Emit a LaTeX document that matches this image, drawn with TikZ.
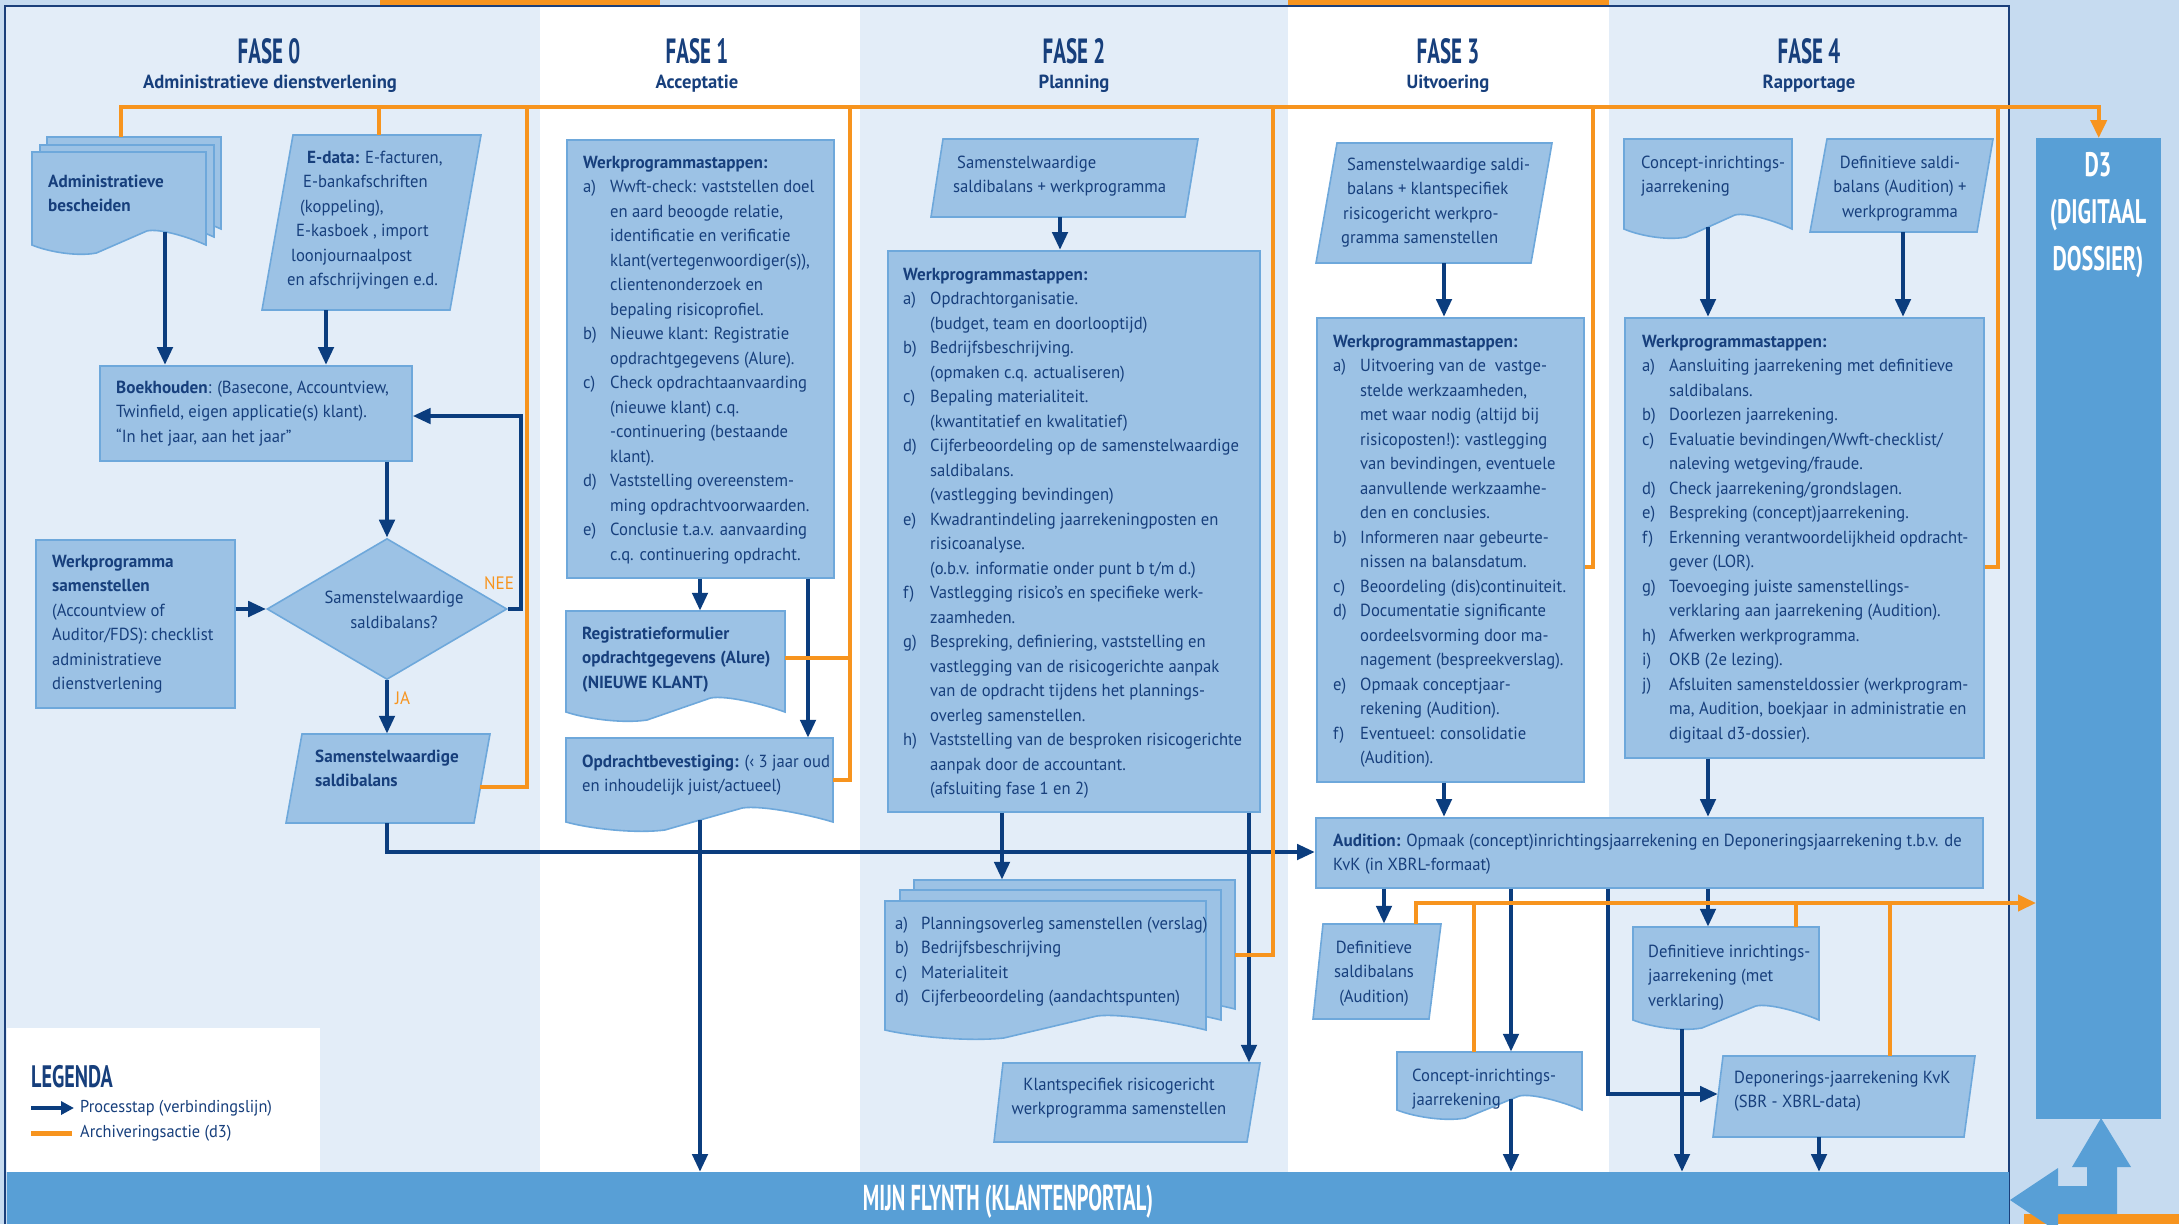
\documentclass[tikz,border=0pt]{standalone}
\usepackage{fontspec}
\setmainfont{PT Sans}[FakeStretch=0.95,BoldFeatures={FakeStretch=0.98}]
\newfontfamily\hfont{PT Sans}[FakeStretch=0.6]
\newfontfamily\dfont{PT Sans}[FakeStretch=0.65]
\newfontfamily\bfont{PT Sans}[FakeStretch=0.57]
\usetikzlibrary{arrows.meta,shapes.geometric,fit}
\definecolor{txtc}{HTML}{173F7C}
\definecolor{arrc}{HTML}{0B3D7E}
\definecolor{orc}{HTML}{F7941E}
\definecolor{boxf}{HTML}{9CC2E5}
\definecolor{boxd}{HTML}{6EA8DB}
\definecolor{colA}{HTML}{E3EDF8}
\definecolor{bgout}{HTML}{C6DBF0}
\definecolor{midb}{HTML}{589FD6}
\definecolor{framec}{HTML}{1B3F7A}
\newcommand\fs{\fontsize{17.5}{24.5}\selectfont}
\newcommand\tb[1]{\begin{tabular}{@{}l@{}}#1\end{tabular}}
\newcommand\tcc[1]{\begin{tabular}{@{}c@{}}#1\end{tabular}}
\newcommand\lb[1]{\makebox[27pt][l]{#1}}
% parallelogram: name, ytop, ybot, xtl, xtr, xbl, xbr
\newcommand\para[7]{%
  \path[shp] (#4,#2) -- (#5,#2) -- (#7,#3) -- (#6,#3) -- cycle;
  \node[fit={(#6,#2) (#5,#3)}, inner sep=0pt] (#1) {};
}
% document: name, x1, ytop, x2, ybottom
\newcommand\docu[5]{%
  \path[shp] (#2,#3) -- (#4,#3) -- (#4,#5)
    .. controls ({#4-0.1*(#4-#2)},{#5-8}) and ({#2+0.73*(#4-#2)},{#5-17}) .. ({#2+0.66*(#4-#2)},{#5-14})
    -- ({#2+0.37*(#4-#2)},{#5+8})
    .. controls ({#2+0.25*(#4-#2)},{#5+12}) and ({#2+0.08*(#4-#2)},{#5+6}) .. (#2,#5) -- cycle;
  \node[fit={(#2,#3) (#4,#5)}, inner sep=0pt] (#1) {};
}
\begin{document}
\begin{tikzpicture}[x=1pt,y=-1pt,
  shp/.style={fill=boxf, draw=boxd, line width=1.6pt},
  bx/.style={shp, rectangle, inner sep=0pt, anchor=north west},
  tx/.style={anchor=north west, inner sep=0pt, text=txtc, font=\fs},
  txc/.style={anchor=north, inner sep=0pt, text=txtc, font=\fs},
  arr/.style={draw=arrc, line width=4.5pt, -{Triangle[length=18pt,width=15pt]}},
  org/.style={draw=orc, line width=4pt},
  orgarr/.style={org, -{Triangle[length=18pt,width=16pt]}},
  hd/.style={anchor=base, text=txtc, inner sep=0pt, font=\hfont\bfseries\fontsize{35}{35}\selectfont},
  sub/.style={anchor=base, text=txtc, inner sep=0pt, font=\bfseries\fontsize{19}{21}\selectfont},
  lab/.style={text=orc, inner sep=0pt, font=\fontsize{18}{20}\selectfont}]
\useasboundingbox (0,0) rectangle (2179,1224);
% backgrounds
\fill[bgout] (0,0) rectangle (2179,1224);
\fill[colA] (5,6) rectangle (540,1172);
\fill[white] (540,6) rectangle (860,1172);
\fill[colA] (860,6) rectangle (1288,1172);
\fill[white] (1288,6) rectangle (1609,1172);
\fill[colA] (1609,6) rectangle (2009,1172);
\fill[orc] (380,0) rectangle (660,5);
\fill[orc] (1288,0) rectangle (1609,5);
\draw[framec, line width=2pt] (5,1224) -- (5,6) -- (2009,6) -- (2009,1224);
\fill[white] (7,1028) rectangle (320,1172);
\node[rectangle, fill=midb, inner sep=0pt, anchor=north west, minimum width=2002pt, minimum height=52pt] (bar) at (7,1172) {};
\node[rectangle, fill=midb, inner sep=0pt, anchor=north west, minimum width=125pt, minimum height=981pt] (d3) at (2036,138) {};

% headings
\node[hd] (h0) at (269,63) {FASE 0};
\node[sub] (s0) at (270,88) {Administratieve dienstverlening};
\node[hd] (h1) at (697,63) {FASE 1};
\node[sub] (s1) at (697,88) {Acceptatie};
\node[hd] (h2) at (1074,63) {FASE 2};
\node[sub] (s2) at (1074,88) {Planning};
\node[hd] (h3) at (1448,63) {FASE 3};
\node[sub] (s3) at (1448,88) {Uitvoering};
\node[hd] (h4) at (1809,63) {FASE 4};
\node[sub] (s4) at (1809,88) {Rapportage};

% ---------- FASE 0
\docu{adm3}{47}{137}{221}{229}
\docu{adm2}{40}{145}{214}{237}
\docu{adm}{32}{152}{206}{245}
\node[tx] (admt) at (48,170) {\tb{\textbf{Administratieve}\\\textbf{bescheiden}}};
\para{edata}{135}{310}{293}{481}{262}{450}
\node[tx] (edatat) at (287,146) {\tb{\hspace*{20pt}\textbf{E-data:} E-facturen,\\\hspace*{16pt}E-bankafschriften\\\hspace*{13pt}(koppeling),\\\hspace*{9pt}E-kasboek , import\\\hspace*{4pt}loonjournaalpost\\en afschrijvingen e.d.}};
\node[bx, minimum width=312pt, minimum height=95pt] (boek) at (99,365) {};
\node[tx] (boekt) at (116,376) {\tb{\textbf{Boekhouden}: (Basecone, Accountview,\\Twinfield, eigen applicatie(s) klant).\\“In het jaar, aan het jaar”}};
\node[shp, diamond, inner sep=0pt, minimum width=240pt, minimum height=141pt] (dia) at (387,609) {};
\node[inner sep=0pt, text=txtc, font=\fs, align=center] (diat) at (394,610) {Samenstelwaardige\\saldibalans?};
\node[bx, minimum width=199pt, minimum height=168pt] (wps) at (35,539) {};
\node[tx] (wpst) at (52,550) {\tb{\textbf{Werkprogramma}\\\textbf{samenstellen}\\(Accountview of\\Auditor/FDS): checklist\\administratieve\\dienstverlening}};
\para{ssb}{734}{823}{302}{490}{286}{474}
\node[tx] (ssbt) at (315,745) {\tb{\textbf{Samenstelwaardige}\\\textbf{saldibalans}}};

% ---------- FASE 1
\node[bx, minimum width=267pt, minimum height=438pt] (wp1) at (566,139) {};
\node[tx] (wp1t) at (583,151) {\tb{\textbf{Werkprogrammastappen:}\\
\lb{a)}Wwft-check: vaststellen doel\\
\lb{}en aard beoogde relatie,\\
\lb{}identificatie en verificatie\\
\lb{}klant(vertegenwoordiger(s)),\\
\lb{}clientenonderzoek en\\
\lb{}bepaling risicoprofiel.\\
\lb{b)}Nieuwe klant: Registratie\\
\lb{}opdrachtgegevens (Alure).\\
\lb{c)}Check opdrachtaanvaarding\\
\lb{}(nieuwe klant) c.q.\\
\lb{}-continuering (bestaande\\
\lb{}klant).\\
\lb{d)}Vaststelling overeenstem-\\
\lb{}ming opdrachtvoorwaarden.\\
\lb{e)}Conclusie t.a.v. aanvaarding\\
\lb{}c.q. continuering opdracht.}};
\docu{reg}{566}{611}{785}{712}
\node[tx] (regt) at (582,622) {\tb{\textbf{Registratieformulier}\\\textbf{opdrachtgegevens (Alure)}\\\textbf{(NIEUWE KLANT)}}};
\docu{opd}{566}{738}{833}{822}
\node[tx] (opdt) at (582,750) {\tb{\textbf{Opdrachtbevestiging:} (‹ 3 jaar oud\\en inhoudelijk juist/actueel)}};

% ---------- FASE 2
\para{sw2}{139}{217}{943}{1198}{931}{1185}
\node[tx] (sw2t) at (953,151) {\tb{\hspace*{4pt}Samenstelwaardige\\saldibalans + werkprogramma}};
\node[bx, minimum width=372pt, minimum height=561pt] (wp2) at (887,250) {};
\node[tx] (wp2t) at (903,263) {\tb{\textbf{Werkprogrammastappen:}\\
\lb{a)}Opdrachtorganisatie.\\
\lb{}(budget, team en doorlooptijd)\\
\lb{b)}Bedrijfsbeschrijving.\\
\lb{}(opmaken c.q. actualiseren)\\
\lb{c)}Bepaling materialiteit.\\
\lb{}(kwantitatief en kwalitatief)\\
\lb{d)}Cijferbeoordeling op de samenstelwaardige\\
\lb{}saldibalans.\\
\lb{}(vastlegging bevindingen)\\
\lb{e)}Kwadrantindeling jaarrekeningposten en\\
\lb{}risicoanalyse.\\
\lb{}(o.b.v. informatie onder punt b t/m d.)\\
\lb{f)}Vastlegging risico's en specifieke werk-\\
\lb{}zaamheden.\\
\lb{g)}Bespreking, definiering, vaststelling en\\
\lb{}vastlegging van de risicogerichte aanpak\\
\lb{}van de opdracht tijdens het plannings-\\
\lb{}overleg samenstellen.\\
\lb{h)}Vaststelling van de besproken risicogerichte\\
\lb{}aanpak door de accountant.\\
\lb{}(afsluiting fase 1 en 2)}};
\docu{mdc}{914}{880}{1235}{1009}
\docu{mdb}{900}{890}{1221}{1020}
\docu{md}{885}{901}{1206}{1030}
\node[tx] (mdt) at (895,912) {\tb{%
\makebox[26pt][l]{a)}Planningsoverleg samenstellen (verslag)\\
\makebox[26pt][l]{b)}Bedrijfsbeschrijving\\
\makebox[26pt][l]{c)}Materialiteit\\
\makebox[26pt][l]{d)}Cijferbeoordeling (aandachtspunten)}};
\para{kl}{1063}{1142}{1003}{1260}{994}{1247}
\node[txc] (klt) at (1119,1073) {\tcc{Klantspecifiek risicogericht\\werkprogramma samenstellen}};

% ---------- FASE 3
\para{sw3}{143}{263}{1337}{1552}{1316}{1531}
\node[tx] (sw3t) at (1341,153) {\tb{\hspace*{6pt}Samenstelwaardige saldi-\\\hspace*{6pt}balans + klantspecifiek\\\hspace*{2pt}risicogericht werkpro-\\gramma samenstellen}};
\node[bx, minimum width=267pt, minimum height=464pt] (wp3) at (1316,317) {};
\node[tx] (wp3t) at (1333,330) {\tb{\textbf{Werkprogrammastappen:}\\
\lb{a)}Uitvoering van de \ vastge-\\
\lb{}stelde werkzaamheden,\\
\lb{}met waar nodig (altijd bij\\
\lb{}risicoposten!): vastlegging\\
\lb{}van bevindingen, eventuele\\
\lb{}aanvullende werkzaamhe-\\
\lb{}den en conclusies.\\
\lb{b)}Informeren naar gebeurte-\\
\lb{}nissen na balansdatum.\\
\lb{c)}Beoordeling (dis)continuiteit.\\
\lb{d)}Documentatie significante\\
\lb{}oordeelsvorming door ma-\\
\lb{}nagement (bespreekverslag).\\
\lb{e)}Opmaak conceptjaar-\\
\lb{}rekening (Audition).\\
\lb{f)}Eventueel: consolidatie\\
\lb{}(Audition).}};
\node[bx, minimum width=667pt, minimum height=70pt] (aud) at (1315,817) {};
\node[tx] (audt) at (1333,829) {\tb{\textbf{Audition:} Opmaak (concept)inrichtingsjaarrekening en Deponeringsjaarrekening t.b.v. de\\KvK (in XBRL-formaat)}};
\para{dsb}{924}{1019}{1323}{1441}{1313}{1429}
\node[txc] (dsbt) at (1374,936) {\tcc{Definitieve\\saldibalans\\(Audition)}};
\docu{cij}{1397}{1052}{1582}{1110}
\node[tx] (cijt) at (1412,1064) {\tb{Concept-inrichtings-\\jaarrekening}};

% ---------- FASE 4
\docu{cin}{1624}{139}{1792}{229}
\node[tx] (cint) at (1641,151) {\tb{Concept-inrichtings-\\jaarrekening}};
\para{dsp}{139}{232}{1827}{1993}{1810}{1977}
\node[txc] (dspt) at (1900,151) {\tcc{Definitieve saldi-\\balans (Audition) +\\werkprogramma}};
\node[bx, minimum width=359pt, minimum height=440pt] (wp4) at (1624,317) {};
\node[tx] (wp4t) at (1642,330) {\tb{\textbf{Werkprogrammastappen:}\\
\lb{a)}Aansluiting jaarrekening met definitieve\\
\lb{}saldibalans.\\
\lb{b)}Doorlezen jaarrekening.\\
\lb{c)}Evaluatie bevindingen/Wwft-checklist/\\
\lb{}naleving wetgeving/fraude.\\
\lb{d)}Check jaarrekening/grondslagen.\\
\lb{e)}Bespreking (concept)jaarrekening.\\
\lb{f)}Erkenning verantwoordelijkheid opdracht-\\
\lb{}gever (LOR).\\
\lb{g)}Toevoeging juiste samenstellings-\\
\lb{}verklaring aan jaarrekening (Audition).\\
\lb{h)}Afwerken werkprogramma.\\
\lb{i)}OKB (2e lezing).\\
\lb{j)}Afsluiten samensteldossier (werkprogram-\\
\lb{}ma, Audition, boekjaar in administratie en\\
\lb{}digitaal d3-dossier).}};
\docu{dij}{1633}{927}{1819}{1020}
\node[tx] (dijt) at (1648,940) {\tb{Definitieve inrichtings-\\jaarrekening (met\\verklaring)}};
\para{dep}{1056}{1137}{1723}{1975}{1713}{1964}
\node[tx] (dept) at (1734,1066) {\tb{Deponerings-jaarrekening KvK\\(SBR - XBRL-data)}};

% big labels
\node[anchor=north, inner sep=0pt, align=center, text=white, font=\dfont\bfseries\fontsize{34}{47}\selectfont] (d3t) at (2098,152) {D3\\(DIGITAAL\\DOSSIER)};
\node[inner sep=0pt, text=white, font=\bfont\bfseries\fontsize{36}{36}\selectfont] (bart) at (1008,1202) {MIJN FLYNTH (KLANTENPORTAL)};

% coordinates
\coordinate (tl) at (0,107);
\coordinate (bl) at (0,852);
\coordinate (ol) at (0,903);
\coordinate (fb) at (521,416);
\coordinate (admOut) at (165,232);
\coordinate (opdOut) at (700,820);
\coordinate (cinOut) at (1708,227);
\coordinate (cijOut) at (1511,1099);
\coordinate (dijOut) at (1682,1029);
\coordinate (depL) at (1718,1094);
\coordinate (ssbR) at (480,787);
\coordinate (c121) at (121,0);
\coordinate (c326) at (326,0);
\coordinate (c379) at (379,0);
\coordinate (c527) at (527,0);
\coordinate (c700) at (700,0);
\coordinate (c808) at (808,0);
\coordinate (c850) at (850,0);
\coordinate (c1002) at (1002,0);
\coordinate (c1060) at (1060,0);
\coordinate (c1249) at (1249,0);
\coordinate (c1273) at (1273,0);
\coordinate (c1384) at (1384,0);
\coordinate (c1416) at (1416,0);
\coordinate (c1444) at (1444,0);
\coordinate (c1474) at (1474,0);
\coordinate (c1511) at (1511,0);
\coordinate (c1593) at (1593,0);
\coordinate (c1608) at (1608,0);
\coordinate (c1708) at (1708,0);
\coordinate (c1796) at (1796,0);
\coordinate (c1819) at (1819,0);
\coordinate (c1890) at (1890,0);
\coordinate (c1903) at (1903,0);
\coordinate (c1998) at (1998,0);
\coordinate (y567) at (0,567);
\coordinate (y658) at (0,658);
\coordinate (y780) at (0,780);
\coordinate (y955) at (0,955);

% blue connectors
\draw[arr] (admOut) -- (admOut |- boek.north);
\draw[arr] (edata.south -| c326) -- (boek.north -| c326);
\draw[arr] (boek.south -| dia.north) -- (dia.north);
\draw[arr] (wps.east |- dia.west) -- (dia.west);
\draw[arr] (dia.south) -- (dia.south |- ssb.north);
\draw[arr] (dia.east) -| (fb) -- (fb -| boek.east);
\node[lab] (nee) at (499,583) {NEE};
\node[lab, anchor=west] (ja) at (395,698) {JA};
\draw[arr] (ssb.south -| dia.south) |- (aud.west |- bl);
\draw[arr] (wp1.south -| c700) -- (reg.north -| c700);
\draw[arr] (wp1.south -| c808) -- (opd.north -| c808);
\draw[arr] (opdOut) -- (opdOut |- bar.north);
\draw[arr] (sw2.south -| c1060) -- (wp2.north -| c1060);
\draw[arr] (wp2.south -| c1002) -- (mdc.north -| c1002);
\draw[arr] (wp2.south -| c1249) -- (kl.north -| c1249);
\draw[arr] (sw3.south -| c1444) -- (wp3.north -| c1444);
\draw[arr] (wp3.south -| c1444) -- (aud.north -| c1444);
\draw[arr] (aud.south -| c1384) -- (dsb.north -| c1384);
\draw[arr] (aud.south -| c1511) -- (cij.north -| c1511);
\draw[arr] (cijOut) -- (cijOut |- bar.north);
\draw[arr] (aud.south -| c1608) |- (depL);
\draw[arr] (cinOut) -- (cinOut |- wp4.north);
\draw[arr] (dsp.south -| c1903) -- (wp4.north -| c1903);
\draw[arr] (wp4.south -| c1708) -- (aud.north -| c1708);
\draw[arr] (aud.south -| c1708) -- (dij.north -| c1708);
\draw[arr] (dijOut) -- (dijOut |- bar.north);
\draw[arr] (dep.south -| c1819) -- (bar.north -| c1819);

% orange connectors
\draw[orgarr] (adm3.north -| c121) |- (d3.north |- tl) -- (d3.north);
\draw[org] (edata.north -| c379) -- (c379 |- tl);
\draw[org] (ssbR) -| (c527 |- tl);
\draw[org] (reg.east |- y658) -| (c850 |- tl);
\draw[org] (opd.east |- y780) -| (c850 |- y658);
\draw[org] (mdc.east |- y955) -| (c1273 |- tl);
\draw[org] (wp3.east |- y567) -| (c1593 |- tl);
\draw[org] (wp4.east |- y567) -| (c1998 |- tl);
\draw[orgarr] (dsb.north -| c1416) |- (d3.west |- ol);
\draw[org] (cij.north -| c1474) -- (c1474 |- ol);
\draw[org] (dij.north -| c1796) -- (c1796 |- ol);
\draw[org] (dep.north -| c1890) -- (c1890 |- ol);

% legend
\node[anchor=base west, inner sep=0pt, text=txtc, font=\dfont\bfseries\fontsize{31}{31}\selectfont] (leg) at (31,1087) {LEGENDA};
\coordinate (la1) at (31,1108);
\coordinate (la2) at (74,1108);
\coordinate (lo1) at (31,1133);
\coordinate (lo2) at (72,1133);
\draw[draw=arrc, line width=4pt, -{Triangle[length=13pt,width=13pt]}] (la1) -- (la2);
\draw[org, line width=5pt] (lo1) -- (lo2);
\node[anchor=west, inner sep=0pt, text=txtc, font=\fontsize{17.2}{19}\selectfont] (legt1) at (80,1108) {Processtap (verbindingslijn)};
\node[anchor=west, inner sep=0pt, text=txtc, font=\fontsize{17.2}{19}\selectfont] (legt2) at (80,1133) {Archiveringsactie (d3)};

% bottom-right arrows
\fill[orc] (2024,1214) rectangle (2179,1224);
\fill[midb] (2101,1118) -- (2131,1167) -- (2117,1167) -- (2117,1214) -- (2058,1214) -- (2058,1232) -- (2010,1200) -- (2058,1168) -- (2058,1186) -- (2087,1186) -- (2087,1167) -- (2072,1167) -- cycle;
\end{tikzpicture}
\end{document}
